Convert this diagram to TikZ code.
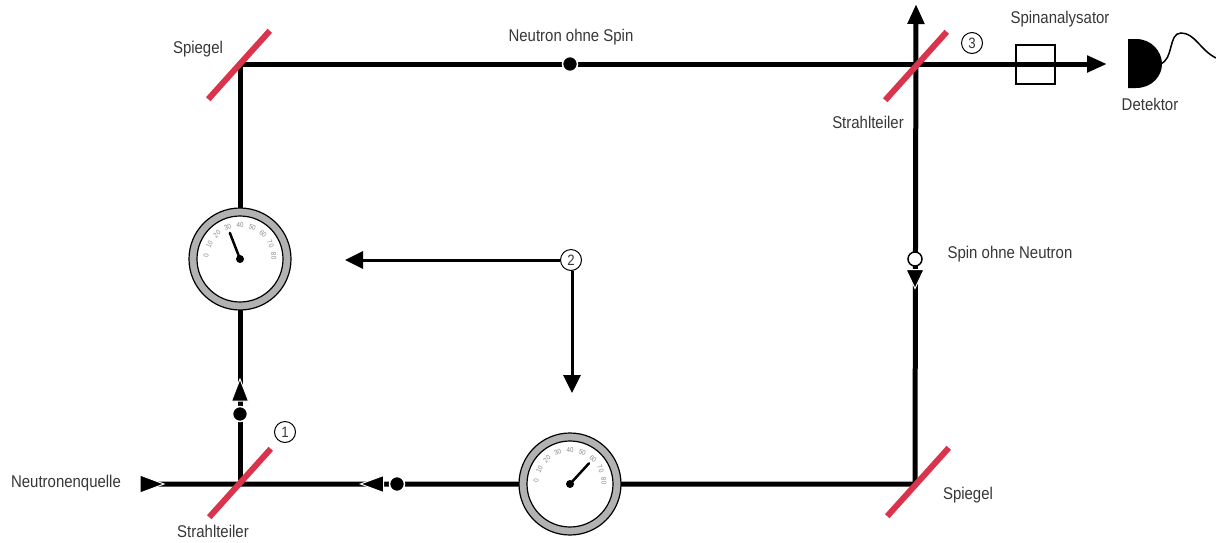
\documentclass[tikz,border=0pt]{standalone}
\usepackage{fontspec}
\setmainfont{Liberation Sans}[FakeStretch=0.88]
\usetikzlibrary{arrows.meta}
\definecolor{mirrorred}{RGB}{218,52,76}
\definecolor{labelgray}{RGB}{55,55,55}
\definecolor{ringgray}{RGB}{178,178,178}
\definecolor{dialgray}{RGB}{135,135,135}

% dial gauge: name, position, reading (0..80)
\newcommand{\gaugedial}[3]{%
  \node[gaugering] (#1) at #2 {};
  \node[gaugeface] (#1-face) at (#1.center) {};
  \begin{scope}[shift={(#1.center)}, yscale=-1]
    \foreach \v in {0,10,...,80} {
      \pgfmathsetmacro\ang{175-2.125*\v}
      \node[dialnum, rotate=\ang-90] (#1-n\v) at (\ang:34) {\v};
    }
    \draw[needle] (0,0) -- ({175-2.125*#3}:28);
    \node[hub] (#1-hub) at (0,0) {};
  \end{scope}}

% direction triangle on a beam: position, direction angle, length, base width
\newcommand{\flowtip}[4]{%
  \filldraw[fill=black, draw=white, line width=1pt, line join=miter, shift={#1}, rotate=#2]
    ({#3/2},0) -- ({-#3/2},{#4/2}) -- ({-#3/2},{-#4/2}) -- cycle;}

\begin{document}
\begin{tikzpicture}[x=1pt, y=-1pt,
  beam/.style={line width=5pt, line join=miter},
  pointer/.style={line width=3pt},
  mirror/.style={rectangle, fill=mirrorred, minimum width=92pt, minimum height=6pt, inner sep=0pt, rotate=48},
  txt/.style={text=labelgray, font=\fontsize{17}{19}\selectfont, inner sep=0pt},
  circnum/.style={circle, draw=black, fill=white, line width=1pt, minimum size=21pt, inner sep=0pt, text=labelgray, font=\fontsize{15}{15}\selectfont},
  gaugering/.style={circle, draw=black, fill=ringgray, line width=1.2pt, minimum size=102pt, inner sep=0pt},
  gaugeface/.style={circle, draw=black, fill=white, line width=1.2pt, minimum size=86pt, inner sep=0pt},
  dialnum/.style={text=dialgray, font=\fontsize{7}{7}\selectfont, inner sep=0pt},
  needle/.style={line width=2.5pt, line cap=round},
  hub/.style={circle, fill=black, minimum size=8pt, inner sep=0pt},
  particle/.style={circle, fill=black, draw=white, line width=1.5pt, minimum size=15pt, inner sep=0pt},
  spinmark/.style={circle, fill=white, draw=black, line width=1.5pt, minimum size=14pt, inner sep=0pt},
  endtip/.style={-{Triangle[length=20pt, width=16pt]}},
  pointtip/.style={-{Triangle[length=18pt, width=17pt]}}
]
\useasboundingbox (0,0) rectangle (1216,542);

% corners of the interferometer
\coordinate (src) at (156,484);
\coordinate (bl) at (240,484);
\coordinate (tl) at (240,64);
\coordinate (tr) at (915,64);
\coordinate (br) at (915,484);
\coordinate (upend) at (916,4);
\coordinate (outend) at (1107,64);

% neutron beams
\draw[beam, endtip] (src) -- (br) -- (upend);
\draw[beam, endtip] (tr) -- (outend);
\draw[beam] (bl) -- (tl) -- (tr);

% pointers from marker 2
\node[circnum] (n2) at (571,260) {2};
\coordinate (p2left) at (345,260);
\coordinate (p2down) at (572,393);
\draw[pointer, pointtip] (n2.west) -- (p2left);
\draw[pointer, pointtip] (n2.south -| p2down) -- (p2down);

% dial gauges
\gaugedial{gaugeA}{(240,259)}{30}
\gaugedial{gaugeB}{(570,484)}{60}

% mirrors and beam splitters
\node[mirror] (spiegelA) at (239,65) {};
\node[mirror] (teilerA) at (240,483) {};
\node[mirror] (teilerB) at (916,66) {};
\node[mirror] (spiegelB) at (918,482) {};

% spin analyser and detector
\node[rectangle, draw=black, line width=2pt, minimum size=39pt, inner sep=0pt] (analyser) at (1035,64) {};
\fill (1128,39) -- (1136,39) .. controls (1152,39) and (1162,52) .. (1162,64)
      .. controls (1162,76) and (1152,88) .. (1136,88) -- (1128,88) -- cycle;
\coordinate (det) at (1160,64);
\coordinate (wireend) at (1216,58);
\draw[line width=1.5pt] (det) .. controls (1174,60) and (1168,33) .. (1181,33)
      .. controls (1195,33) and (1200,50) .. (wireend);

% particles and direction marks
\node[particle] (neutronTop) at (570,64) {};
\node[particle] (neutronLeft) at (240,414) {};
\node[particle] (neutronBottom) at (397,484) {};
\node[spinmark] (spinRight) at (915,259) {};
\flowtip{(240,390)}{90}{22}{17}
\flowtip{(372,484)}{180}{23}{17}
\flowtip{(152,484)}{0}{24}{18}
\flowtip{(915,279)}{-90}{19}{18}

% numbered markers
\node[circnum] (n1) at (285,432) {1};
\node[circnum] (n3) at (972,43) {3};

% labels
\node[txt] (lSpiegelA) at (198,49) {Spiegel};
\node[txt] (lNeutron) at (571,37) {Neutron ohne Spin};
\node[txt] (lAnalyser) at (1060,19) {Spinanalysator};
\node[txt] (lTeilerB) at (868,122) {Strahlteiler};
\node[txt] (lDetektor) at (1150,104) {Detektor};
\node[txt] (lSpin) at (1010,254) {Spin ohne Neutron};
\node[txt] (lQuelle) at (66,483) {Neutronenquelle};
\node[txt] (lTeilerA) at (213,531) {Strahlteiler};
\node[txt] (lSpiegelB) at (968,495) {Spiegel};
\end{tikzpicture}
\end{document}
